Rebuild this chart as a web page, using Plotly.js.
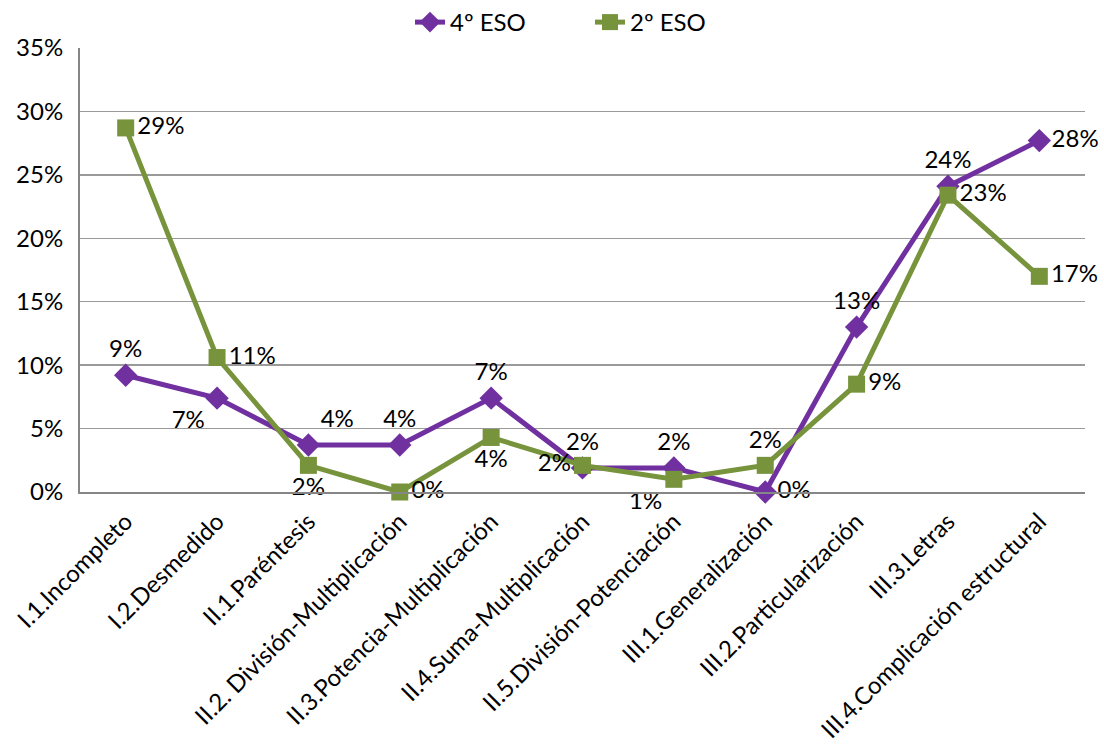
<!DOCTYPE html>
<html>
<head>
<meta charset="utf-8">
<script src="https://cdn.plot.ly/plotly-3.0.1.min.js"></script>
<style>
  html, body { margin: 0; padding: 0; background: #fff; }
  #chart { width: 1104px; height: 753px; }
</style>
</head>
<body>
<div id="chart"></div>
<script>
// Error categories shown along the x axis
const categories = [
  "I.1.Incompleto",
  "I.2.Desmedido",
  "II.1.Paréntesis",
  "II.2. División-Multiplicación",
  "II.3.Potencia-Multiplicación",
  "II.4.Suma-Multiplicación",
  "II.5.División-Potenciación",
  "III.1.Generalización",
  "III.2.Particularización",
  "III.3.Letras",
  "III.4.Complicación estructural"
];

// Share of each error type per school year (fractions)
const eso4 = [0.092, 0.074, 0.037, 0.037, 0.074, 0.019, 0.019, 0.0, 0.130, 0.241, 0.277];
const eso2 = [0.287, 0.106, 0.021, 0.0, 0.043, 0.021, 0.010, 0.021, 0.085, 0.234, 0.170];

// Where each value label sits relative to its marker
const eso4LabelPos = ["top center", "bottom left", "top right", "top center", "top center",
  "top center", "top center", "middle right", "top center", "top center", "middle right"];
const eso2LabelPos = ["middle right", "middle right", "bottom center", "middle right", "bottom center",
  "middle left", "bottom left", "top center", "middle right", "middle right", "middle right"];

const FONT = "Lato, 'Open Sans', sans-serif";
const FS = 24;

const traces = [
  {
    x: categories, y: eso4, name: "4º ESO", type: "scatter", mode: "lines+markers+text",
    line: { color: "#7030A0", width: 5 },
    marker: { symbol: "diamond", size: 18, color: "#7030A0" },
    text: eso4, texttemplate: "%{y:.0%}", textposition: eso4LabelPos,
    textfont: { family: FONT, size: FS, color: "#000" },
    cliponaxis: false,
    hoverinfo: "x+y"
  },
  {
    x: categories, y: eso2, name: "2º ESO", type: "scatter", mode: "lines+markers+text",
    line: { color: "#77933C", width: 5 },
    marker: { symbol: "square", size: 17, color: "#77933C" },
    text: eso2, texttemplate: "%{y:.0%}", textposition: eso2LabelPos,
    textfont: { family: FONT, size: FS, color: "#000" },
    cliponaxis: false,
    hoverinfo: "x+y"
  }
];

const layout = {
  width: 1104, height: 753,
  margin: { l: 80, r: 19, t: 48, b: 261 },
  paper_bgcolor: "#fff", plot_bgcolor: "#fff",
  font: { family: FONT, size: FS, color: "#000" },
  showlegend: true,
  legend: {
    orientation: "h", xref: "container", x: 410 / 1104, xanchor: "left",
    yref: "container", y: 1.0, yanchor: "top",
    font: { family: FONT, size: FS, color: "#000" },
    entrywidth: 135, entrywidthmode: "pixels", tracegroupgap: 0
  },
  xaxis: {
    type: "category", range: [-0.5, 10.5], tickangle: -45, showgrid: false,
    showline: true, linecolor: "#868686", linewidth: 2,
    ticks: "", ticklabelstandoff: 4,
    tickfont: { family: FONT, size: FS, color: "#000" },
    fixedrange: true
  },
  yaxis: {
    range: [0, 0.35], dtick: 0.05, tickformat: ".0%",
    showgrid: true, gridcolor: "#9a9a9a", gridwidth: 1.5,
    showline: true, linecolor: "#868686", linewidth: 2,
    zeroline: false, ticks: "", ticklen: 0, ticklabelstandoff: 10,
    tickfont: { family: FONT, size: FS, color: "#000" },
    fixedrange: true
  }
};

Plotly.newPlot("chart", traces, layout, { displayModeBar: false, staticPlot: true });
</script>
</body>
</html>
